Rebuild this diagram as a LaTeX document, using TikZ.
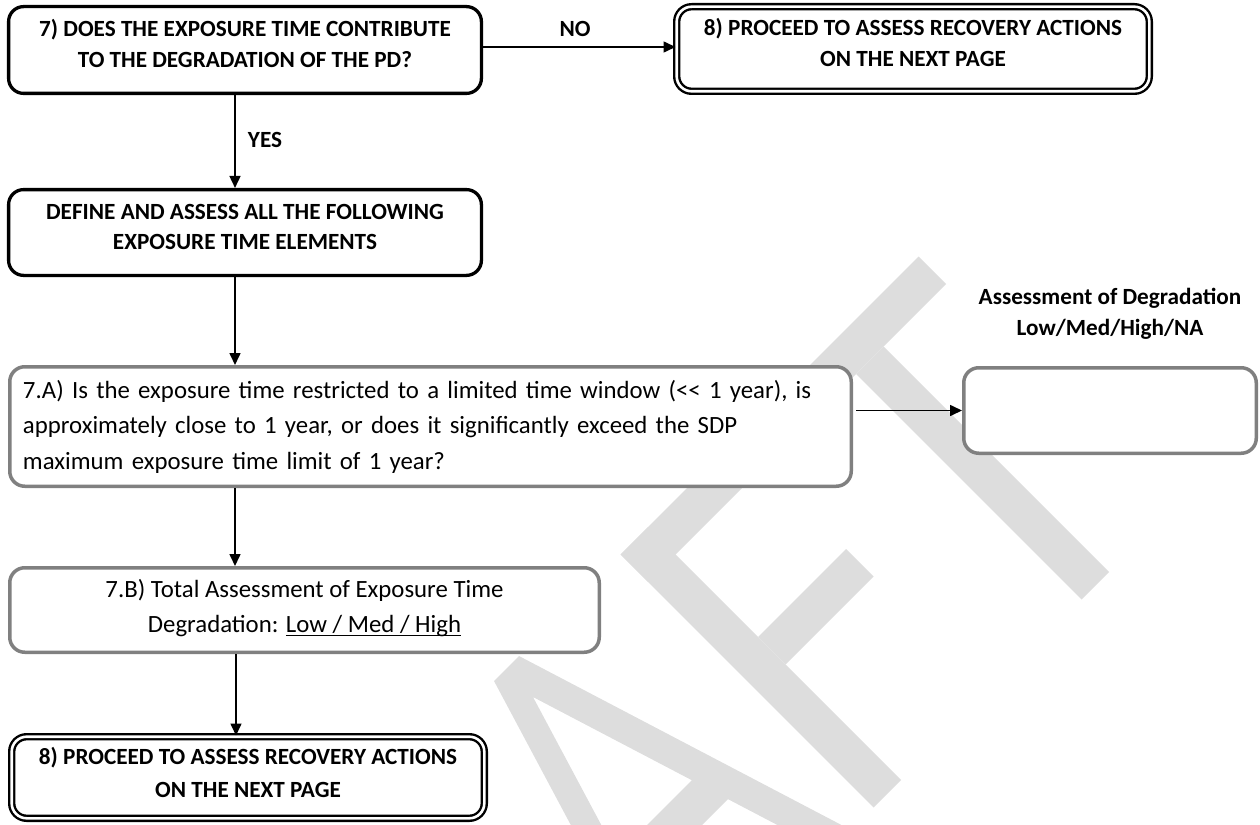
\documentclass[tikz,border=0pt]{standalone}
\usepackage{fontspec}
\setmainfont{Carlito}
\usetikzlibrary{arrows.meta}
\definecolor{wm}{RGB}{221,221,221}
\definecolor{bgray}{RGB}{128,128,128}
\newcommand\myuline[1]{\setbox0=\hbox{#1}\rlap{\rule[-3.5pt]{\wd0}{1.3pt}}\box0}
\begin{document}
\begin{tikzpicture}[x=1pt,y=-1pt,
  boxbase/.style={rounded corners=15pt, fill=white, inner sep=0pt, align=center},
  blackbox/.style={boxbase, draw=black, line width=3.3pt, font=\fontsize{23.2}{31}\selectfont\bfseries},
  greybox/.style={boxbase, draw=bgray, line width=3.5pt, font=\fontsize{24.8}{35.5}\selectfont},
  dblbox/.style={boxbase, draw=black, double=white, line width=2.4pt, double distance=2.6pt, font=\fontsize{23.2}{31.5}\selectfont\bfseries},
  arr/.style={line width=1.6pt, -{Triangle[length=12pt,width=11pt]}},
  lbl/.style={font=\fontsize{23.2}{31}\selectfont\bfseries, inner sep=0pt, align=center}
]
\useasboundingbox (0,0) rectangle (1260,824);
% watermark
\begin{scope}
\clip (0,0) rectangle (1260,824);
\fill[wm] (620.5,554.5) -- (918.5,256.5) -- (946,284) -- (648,582) -- cycle;
\fill[wm] (620.5,554.5) -- (648,527) -- (901,780) -- (873.5,807.5) -- cycle;
\fill[wm] (758,637) -- (846,549) -- (873.5,576.5) -- (785.5,664.5) -- cycle;
\fill[wm] (856,374) -- (883.5,346.5) -- (1109,572) -- (1081.5,599.5) -- cycle;
\fill[wm, even odd rule] (670,1011) -- (494,681) -- (519,656) -- (851,830) -- (829,852)
   -- (727.9,799.1) -- (636.4,890.7) -- (690,991) -- cycle
   (533,697) -- (691.8,780.2) -- (617.2,854.8) -- cycle;
\end{scope}

\coordinate (ax) at (235,0);

\node[blackbox, minimum width=472.8pt, minimum height=86.8pt, text height=47pt, text depth=12.6pt] (q7) at (245,50)
  {7) DOES THE EXPOSURE TIME CONTRIBUTE\\TO THE DEGRADATION OF THE PD?};
\node[dblbox, minimum width=472.6pt, minimum height=84.6pt, text height=47.5pt, text depth=11.6pt] (q8a) at (913,49)
  {8) PROCEED TO ASSESS RECOVERY ACTIONS\\ON THE NEXT PAGE};
\node[blackbox, minimum width=472.8pt, minimum height=85.8pt, text height=46pt, text depth=12.6pt, font=\fontsize{23.2}{30}\selectfont\bfseries] (def) at (245,232.5)
  {DEFINE AND ASSESS ALL THE FOLLOWING\\EXPOSURE TIME ELEMENTS};
\node[greybox, minimum width=841.5pt, minimum height=119.5pt, text width=815pt, align=left] (qa) at (430.5,426.5)
  {7.A) Is the exposure time restricted to a limited time window (<{}< 1 year), is\\approximately close to 1 year, or does it significantly exceed the SDP\\maximum exposure time limit of 1 year?};
\node[greybox, minimum width=292.5pt, minimum height=85.5pt] (ra) at (1110,410.5) {};
\node[lbl, text height=49pt, text depth=3.6pt] (ralbl) at (1110,312.5) {Assessment of Degradation\\Low/Med/High/NA};
\node[greybox, minimum width=589.5pt, minimum height=84.5pt, text height=52.5pt, text depth=7pt] (qb) at (304.5,610)
  {7.B) Total Assessment of Exposure Time\\Degradation: \myuline{Low / Med / High}};
\node[dblbox, minimum width=472.6pt, minimum height=81.6pt, text height=48.5pt, text depth=9pt, font=\fontsize{23.2}{32.5}\selectfont\bfseries] (q8b) at (248,777.5)
  {8) PROCEED TO ASSESS RECOVERY ACTIONS\\ON THE NEXT PAGE};

\node[lbl, text height=14.6pt, text depth=0pt] (no) at (575,29.5) {NO};
\node[lbl, text height=14.6pt, text depth=0pt] (yes) at (265,140) {YES};

\draw[arr] ([yshift=3pt]q7.east) -- ([yshift=3pt]q7.east -| q8a.west);
\draw[arr] (q7.south -| ax) -- (def.north -| ax);
\draw[arr] (def.south -| ax) -- (qa.north -| ax);
\draw[arr, shorten <=3pt] (qa.east |- ra.west) -- (ra.west);
\draw[arr] (qa.south -| ax) -- (qb.north -| ax);
\draw[arr] ([xshift=1pt]qb.south -| ax) -- ([xshift=1pt]q8b.north -| ax);
\end{tikzpicture}
\end{document}
